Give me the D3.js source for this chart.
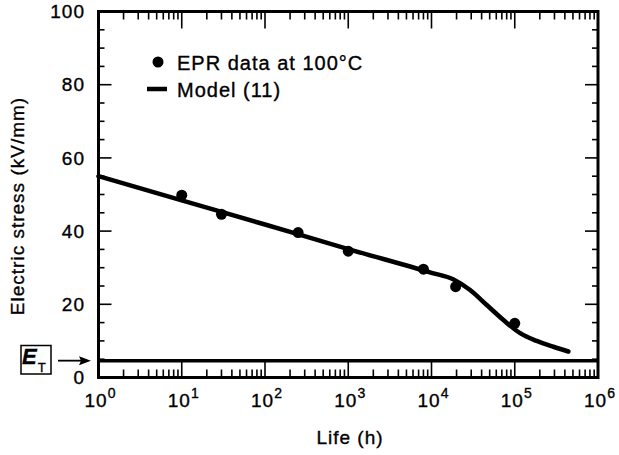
<!DOCTYPE html>
<html><head><meta charset="utf-8">
<script src="https://cdnjs.cloudflare.com/ajax/libs/d3/7.8.5/d3.min.js"></script>
<style>
body{margin:0;background:#fff;}
text{font-family:"Liberation Sans",Arial,Helvetica,sans-serif;fill:#000;stroke:#000;stroke-width:0.35px;}
</style></head>
<body><svg id="c" width="619" height="455"></svg>
<script>
// ---- data ----
const dataLife = [10, 30, 250, 1000, 8000, 19500, 100000];
const dataStress = [49.8, 44.6, 39.6, 34.5, 29.6, 24.8, 14.8];
const modelLife = [1, 10, 100, 1000, 10000, 18400, 29100, 46100, 73100, 115900, 183700, 291100, 440600];
const modelStress = [55.0, 48.4, 41.8, 35.1, 28.6, 26.8, 23.9, 19.8, 15.7, 12.1, 10.0, 8.4, 7.1];
const thresholdET = 4.6;
const xTickExps = [0, 1, 2, 3, 4, 5, 6];
const yTickLabels = [0, 20, 40, 60, 80, 100];
const legendLabels = ["EPR data at 100°C", "Model (11)"];

const svg = d3.select("#c");
const L = 98.5, R = 598, T = 11.5, B = 377.5;
const x = d3.scaleLog().domain([1, 1e6]).range([L, R]);
const y = d3.scaleLinear().domain([0, 100]).range([B, T]);

const g = svg.append("g");

// minor/major ticks
const tickG = g.append("g").attr("stroke", "#000").attr("stroke-width", 1.6);
d3.range(0, 101, 5).forEach(v => {
  const major = v % 20 === 0;
  const len = major ? 13 : 6;
  tickG.append("line").attr("x1", L).attr("x2", L + len).attr("y1", y(v)).attr("y2", y(v));
  tickG.append("line").attr("x1", R).attr("x2", R - len).attr("y1", y(v)).attr("y2", y(v));
});
for (let e = 0; e < 6; e++) {
  for (let m = 1; m <= 9; m++) {
    const v = m * Math.pow(10, e);
    const major = m === 1;
    const len = major ? 17 : 8;
    tickG.append("line").attr("x1", x(v)).attr("x2", x(v)).attr("y1", B).attr("y2", B - len);
    tickG.append("line").attr("x1", x(v)).attr("x2", x(v)).attr("y1", T).attr("y2", T + len);
  }
}

// ET line
g.append("line").attr("x1", L).attr("x2", R).attr("y1", y(thresholdET)).attr("y2", y(thresholdET))
  .attr("stroke", "#000").attr("stroke-width", 3.5);

// frame
g.append("rect").attr("x", L).attr("y", T).attr("width", R - L).attr("height", B - T)
  .attr("fill", "none").attr("stroke", "#000").attr("stroke-width", 3);

// model line
const model = modelLife.map((d, i) => [d, modelStress[i]]);
g.append("path").datum(model)
  .attr("d", d3.line().x(d => x(d[0])).y(d => y(d[1])).curve(d3.curveMonotoneX))
  .attr("fill", "none").attr("stroke", "#000").attr("stroke-width", 4.5).attr("stroke-linecap", "round");

// data points
g.selectAll("circle.pt").data(dataLife.map((d, i) => [d, dataStress[i]])).enter()
  .append("circle").attr("class", "pt").attr("cx", d => x(d[0])).attr("cy", d => y(d[1])).attr("r", 5.5).attr("fill", "#000");

// y tick labels
g.selectAll("text.yl").data(yTickLabels).enter().append("text")
  .attr("x", 85).attr("y", d => y(d)).attr("dy", "0.35em").attr("text-anchor", "end")
  .attr("font-size", 19).attr("letter-spacing", 1).text(d => d);

// x tick labels
xTickExps.forEach(e => {
  const t = g.append("text").attr("x", x(Math.pow(10, e)) + 2).attr("y", 407).attr("text-anchor", "middle")
    .attr("font-size", 19).attr("letter-spacing", 1);
  t.append("tspan").text("10");
  t.append("tspan").attr("dy", -9).attr("font-size", 14).text(String(e));
});

// axis titles
g.append("text").attr("x", 350).attr("y", 444).attr("text-anchor", "middle").attr("font-size", 19)
  .attr("letter-spacing", 1).text("Life (h)");
g.append("text").attr("transform", "translate(24,206) rotate(-90)").attr("text-anchor", "middle")
  .attr("font-size", 19).attr("letter-spacing", 1).text("Electric stress (kV/mm)");

// legend
g.append("circle").attr("cx", 158).attr("cy", 62).attr("r", 5.5).attr("fill", "#000");
g.append("text").attr("x", 177).attr("y", 70).attr("font-size", 20).attr("letter-spacing", 1).text(legendLabels[0]);
g.append("line").attr("x1", 147).attr("x2", 167).attr("y1", 89).attr("y2", 89).attr("stroke", "#000").attr("stroke-width", 4.5);
g.append("text").attr("x", 177).attr("y", 97).attr("font-size", 20).attr("letter-spacing", 1).text(legendLabels[1]);

// ET annotation
g.append("rect").attr("x", 21).attr("y", 345.5).attr("width", 30).attr("height", 28.5)
  .attr("fill", "none").attr("stroke", "#000").attr("stroke-width", 1.5);
const et = g.append("text").attr("x", 22).attr("y", 364).attr("font-family", "'Liberation Serif','DejaVu Serif',serif")
  .attr("font-style", "italic").attr("font-weight", "bold").attr("font-size", 22);
et.append("tspan").text("E");
et.append("tspan").attr("font-family", "'Liberation Sans',Arial,sans-serif").attr("font-style", "normal")
  .attr("font-weight", "normal").attr("font-size", 13).attr("dx", 1).attr("dy", 8).text("T");
g.append("line").attr("x1", 58).attr("x2", 82).attr("y1", y(thresholdET)).attr("y2", y(thresholdET))
  .attr("stroke", "#000").attr("stroke-width", 1.8);
g.append("path").attr("d", `M91,${y(thresholdET)} L79,${y(thresholdET) - 4.5} L81,${y(thresholdET)} L79,${y(thresholdET) + 4.5} Z`)
  .attr("fill", "#000");
</script></body></html>
